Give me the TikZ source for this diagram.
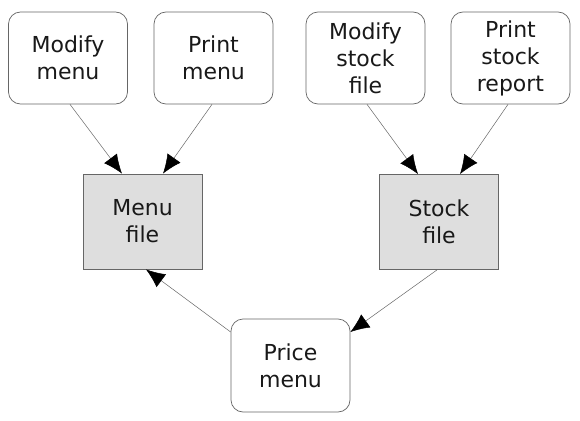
\documentclass[tikz,border=0pt]{standalone}
\usepackage{fontspec}
\setmainfont{DejaVu Sans}
\usetikzlibrary{arrows.meta,calc}
\definecolor{boxgray}{HTML}{DEDEDE}
\definecolor{linegray}{HTML}{666666}
\begin{document}
\begin{tikzpicture}[x=1pt,y=-1pt,
  every node/.style={font=\fontsize{22}{27}\selectfont, align=center, inner sep=0pt, text=black!90},
  proc/.style={draw=linegray, line width=0.7pt, rounded corners=12pt, minimum width=119pt, minimum height=92pt, fill=white},
  store/.style={draw=linegray, line width=0.8pt, fill=boxgray, minimum width=119pt, minimum height=95pt},
  flow/.style={draw=linegray, line width=0.5pt, -{Latex[length=19pt,width=16pt,color=black]}}]
\useasboundingbox (0,0) rectangle (580,420);
\node[proc] (mm) at (68,58) {Modify\\menu};
\node[proc] (pm) at (213.5,58) {Print\\menu};
\node[proc] (ms) at (365.5,58) {Modify\\stock\\file};
\node[proc] (ps) at (510.5,58) {Print\\stock\\report};
\node[store] (mf) at (142.5,221.5) {Menu\\file};
\node[store] (sf) at (439,222) {Stock\\file};
\node[proc, minimum height=93pt] (pr) at (290.5,365.5) {Price\\menu};
\draw[flow] ($(mm.south)+(2,0)$) -- ($(mf.north)+(-20.5,0)$);
\draw[flow] ($(pm.south)+(-1.5,0)$) -- ($(mf.north)+(20.5,0)$);
\draw[flow] ($(ms.south)+(1.5,0)$) -- ($(sf.north)+(-21,0)$);
\draw[flow] ($(ps.south)+(-2.5,0)$) -- ($(sf.north)+(21,0)$);
\draw[flow] ($(pr.west)+(0,-33.5)$) -- ($(mf.south)+(3.5,0)$);
\draw[flow] ($(sf.south)+(-2,0)$) -- ($(pr.east)+(0,-33.5)$);
\end{tikzpicture}
\end{document}
